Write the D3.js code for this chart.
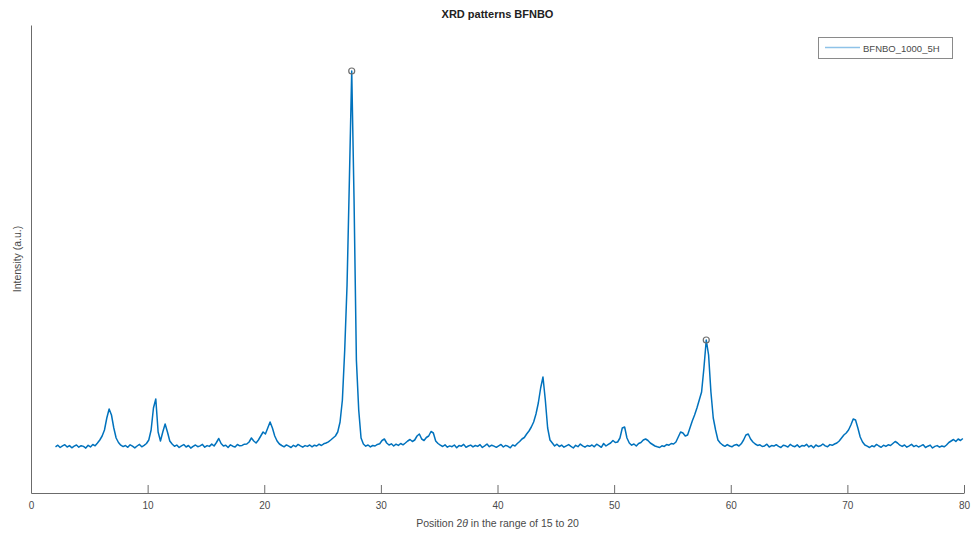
<!DOCTYPE html>
<html>
<head>
<meta charset="utf-8">
<script src="https://cdn.jsdelivr.net/npm/d3@7"></script>
<style>
  html, body { margin: 0; padding: 0; background: #fff; }
  svg { display: block; font-family: "Liberation Sans", Arial, sans-serif; }
</style>
</head>
<body>
<svg id="chart" width="973" height="535"></svg>
<script>
// ---- data ----
const title = "XRD patterns BFNBO";
const seriesName = "BFNBO_1000_5H";
const xLabelParts = ["Position 2", "\u03B8", " in the range of 15 to 20"];
const yLabel = "Intensity (a.u.)";
const xTicks = [0, 10, 20, 30, 40, 50, 60, 70, 80];

// measurement grid: 2.1° ... 79.9°, step 0.2°
const thetaStart = 2.1;
const thetaStep = 0.2;
const intensity = [
  462, 478, 455, 471, 483, 460, 474, 452, 469, 480,
  458, 473, 466, 449, 477, 461, 485, 472, 500, 530,
  570, 630, 750, 840, 780, 650, 550, 505, 478, 464,
  475, 457, 482, 468, 451, 470, 486, 462, 476, 495,
  530, 630, 850, 940, 610, 520, 610, 690, 610, 520,
  490, 468, 479, 455, 472, 484, 460, 475, 449, 467,
  480, 463, 471, 486, 458, 474, 466, 489, 470, 505,
  545, 495, 470, 478, 455, 482, 468, 460, 485, 472,
  476, 488, 490, 510, 550, 520, 500, 530, 570, 610,
  590, 650, 710, 650, 570, 520, 490, 475, 462, 481,
  468, 455, 477, 463, 486, 471, 458, 474, 466, 480,
  462, 478, 470, 488, 475, 492, 500, 512, 530, 550,
  570, 610, 710, 930, 1430, 2080, 3130, 4220, 2930, 1330,
  830, 550, 490, 468, 480, 461, 475, 470, 486, 492,
  525, 540, 500, 480, 492, 470, 488, 476, 495, 482,
  500, 520, 535, 515, 530, 570, 590, 540, 525, 555,
  570, 615, 600, 520, 495, 478, 465, 482, 458, 471,
  463, 480, 452, 474, 468, 486, 457, 470, 479, 461,
  475, 466, 484, 455, 472, 490, 463, 478, 469, 457,
  472, 485, 460, 476, 467, 452, 481, 470, 495, 515,
  540, 555, 590, 620, 660, 710, 790, 900, 1050, 1160,
  930, 650, 530, 500, 470, 488, 465, 479, 458, 472,
  484, 466, 450, 477, 463, 489, 471, 458, 475, 467,
  480, 462, 488, 474, 457, 495, 470, 486, 500, 525,
  505, 510, 550, 650, 660, 550, 500, 478, 490, 470,
  495, 505, 530, 540, 525, 500, 485, 470, 462, 455,
  472, 466, 484, 478, 495, 490, 510, 560, 610, 600,
  570, 580, 650, 720, 780, 850, 930, 1010, 1250, 1530,
  1380, 1010, 750, 630, 530, 500, 480, 467, 484, 470,
  462, 478, 485, 470, 492, 530, 580, 590, 540, 510,
  490, 476, 482, 465, 471, 488, 460, 474, 469, 483,
  467, 455, 478, 472, 460, 486, 470, 463, 481, 458,
  474, 469, 487, 461, 476, 452, 480, 466, 472, 490,
  471, 462, 484, 477, 490, 500, 520, 550, 580, 600,
  630, 680, 740, 730, 650, 560, 510, 480, 468, 455,
  472, 463, 486, 470, 457, 478, 466, 482, 475, 495,
  515, 500, 478, 466, 480, 458, 472, 487, 464, 476,
  460, 471, 483, 455, 468, 479, 450, 466, 474, 458,
  470, 462, 480, 505, 520, 535, 515, 540, 525, 545
];
// marked peaks
const peakTheta = [27.5, 57.9];
const peakIntensity = [4220, 1530];

// ---- layout ----
const plotLeft = 31, plotRight = 964, plotTop = 25, plotBottom = 493;
const lineColor = "#0072BD";
const axisColor = "#6b6b6b";
const textColor = "#4a4a4a";

const data = intensity.map((v, i) => ({ x: +(thetaStart + i * thetaStep).toFixed(2), y: v }));

const svg = d3.select("#chart");

const x = d3.scaleLinear().domain([0, 80]).range([plotLeft, plotRight]);
const y = d3.scaleLinear().domain([0, 4680]).range([plotBottom, plotTop]);

// x axis (ticks pointing inward)
const xAxis = d3.axisBottom(x).tickValues(xTicks).tickSize(0).tickPadding(9);
const gx = svg.append("g").attr("transform", `translate(0,${plotBottom})`).call(xAxis);
gx.select(".domain").attr("stroke", axisColor).attr("stroke-width", 1);
gx.selectAll(".tick text").attr("fill", textColor).attr("font-size", "10px")
  .attr("font-family", "Liberation Sans, Arial, sans-serif");
gx.selectAll(".tick").append("line").attr("y1", 0).attr("y2", -8)
  .attr("stroke", axisColor).attr("stroke-width", 1);

// y axis (no ticks)
const yAxis = d3.axisLeft(y).tickValues([]).tickSizeOuter(0);
const gy = svg.append("g").attr("transform", `translate(${plotLeft},0)`).call(yAxis);
gy.select(".domain").attr("stroke", axisColor).attr("stroke-width", 1);

// data line
const line = d3.line().x(d => x(d.x)).y(d => y(d.y));
svg.append("path").datum(data)
  .attr("fill", "none").attr("stroke", lineColor).attr("stroke-width", 1.5)
  .attr("stroke-linejoin", "round").attr("d", line);

// peak markers
svg.append("g").selectAll("circle").data(peakTheta.map((t, i) => ({ x: t, y: peakIntensity[i] })))
  .join("circle")
  .attr("cx", d => x(d.x)).attr("cy", d => y(d.y)).attr("r", 3)
  .attr("fill", "none").attr("stroke", "#6e6e6e").attr("stroke-width", 1.2);

// title
svg.append("text").attr("x", (plotLeft + plotRight) / 2).attr("y", 18)
  .attr("text-anchor", "middle").attr("font-size", "11px").attr("font-weight", "bold")
  .attr("fill", "#222").text(title);

// x label
const xl = svg.append("text").attr("x", (plotLeft + plotRight) / 2).attr("y", 527)
  .attr("text-anchor", "middle").attr("font-size", "10.5px").attr("fill", textColor);
xl.selectAll("tspan").data(xLabelParts).join("tspan")
  .attr("font-style", (d, i) => i === 1 ? "italic" : "normal")
  .text(d => d);

// y label
svg.append("text").attr("transform", `translate(21,${(plotTop + plotBottom) / 2}) rotate(-90)`)
  .attr("text-anchor", "middle").attr("font-size", "10.5px").attr("fill", textColor)
  .text(yLabel);

// legend
const lg = svg.append("g");
lg.append("rect").attr("x", 818.5).attr("y", 37.5).attr("width", 134).attr("height", 21)
  .attr("fill", "#fff").attr("stroke", "#8a8a8a").attr("stroke-width", 1);
lg.append("line").attr("x1", 825).attr("x2", 860).attr("y1", 47.5).attr("y2", 47.5)
  .attr("stroke", "#8ec2e8").attr("stroke-width", 1.6);
lg.append("text").attr("x", 863).attr("y", 51.5).attr("font-size", "9.5px")
  .attr("fill", textColor).text(seriesName);
</script>
</body>
</html>
